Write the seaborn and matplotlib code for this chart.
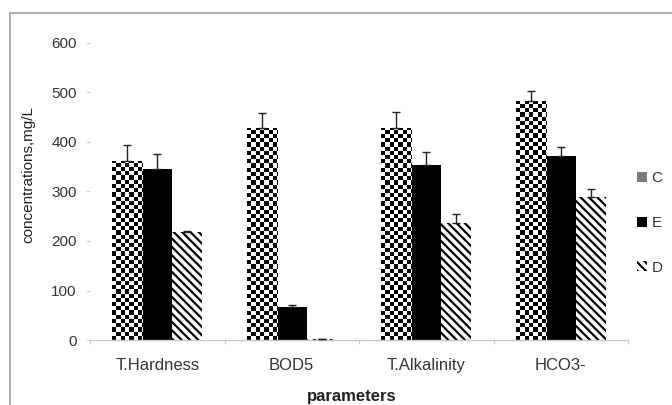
import numpy as np
import pandas as pd
import matplotlib
matplotlib.use("Agg")
import matplotlib.pyplot as plt
import seaborn as sns
from matplotlib.patches import Patch
from matplotlib.lines import Line2D

# ---------------- data ----------------
categories = ["T.Hardness", "BOD5", "T.Alkalinity", "HCO3-"]
groups = ["C", "E", "D"]
values_C = [362, 428, 428, 483]
values_E = [345, 67, 354, 372]
values_D = [218, 3, 236, 289]
err_C = [32, 30, 32, 20]
err_E = [30, 4, 26, 18]
err_D = [2, 0, 18, 16]
y_ticks = [0, 100, 200, 300, 400, 500, 600]

sns.set_theme(style="white")
plt.rcParams["font.family"] = ["Liberation Sans", "DejaVu Sans"]
plt.rcParams["hatch.linewidth"] = 1.6
plt.rcParams["hatch.color"] = "black"

df = pd.DataFrame({
    "parameter": categories * 3,
    "group": ["C"] * 4 + ["E"] * 4 + ["D"] * 4,
    "value": values_C + values_E + values_D,
})
errs = {"C": err_C, "E": err_E, "D": err_D}

fig = plt.figure(figsize=(6.72, 4.05), dpi=100)
ax = fig.add_axes([90 / 672, 1 - 340 / 405, (628 - 90) / 672, (340 - 43) / 405])

sns.barplot(data=df, x="parameter", y="value", hue="group", hue_order=groups,
            order=categories, palette={"C": "white", "E": "black", "D": "white"},
            width=0.67, errorbar=None, saturation=1, legend=False, ax=ax,
            linewidth=0)

ax.set_xlim(-0.5, 3.5)
ax.set_ylim(0, 600)
fig.canvas.draw()

# patterns
cont_C, cont_E, cont_D = ax.containers[0], ax.containers[1], ax.containers[2]
for p in cont_D:
    p.set_hatch("\\\\\\\\")
    p.set_edgecolor("black")
    p.set_linewidth(0)
    p.set_facecolor("white")

cell = 4.2  # pixels
for p in cont_C:
    x0, w, h = p.get_x(), p.get_width(), p.get_height()
    (px0, py0) = ax.transData.transform((x0, 0))
    (px1, py1) = ax.transData.transform((x0 + w, h))
    nx = max(1, int(np.ceil((px1 - px0) / cell)))
    ny = max(1, int(np.ceil((py1 - py0) / cell)))
    ii, jj = np.indices((ny, nx))
    checker = ((ii + jj) % 2).astype(float)
    top = ax.transData.inverted().transform((px0, py0 + ny * cell))[1]
    right = ax.transData.inverted().transform((px0 + nx * cell, py0))[0]
    im = ax.imshow(checker, cmap="gray", extent=(x0, right, 0, top),
                   origin="lower", interpolation="nearest", aspect="auto",
                   zorder=p.get_zorder() + 0.1, vmin=0, vmax=1)
    im.set_clip_path(p)
ax.set_xlim(-0.5, 3.5)
ax.set_ylim(0, 600)

# error bars (upper only)
for cont, g in zip([cont_C, cont_E, cont_D], groups):
    xs = [p.get_x() + p.get_width() / 2 for p in cont]
    ys = [p.get_height() for p in cont]
    e = errs[g]
    ax.errorbar(xs, ys, yerr=[np.zeros(len(e)), e], fmt="none",
                ecolor="#222222", elinewidth=1, capsize=3, capthick=1, zorder=5)

# axes styling
for s in ["top", "right", "left"]:
    ax.spines[s].set_visible(False)
ax.spines["bottom"].set_color("#c8c8c8")
ax.spines["bottom"].set_linewidth(1)
ax.set_yticks(y_ticks)
ax.tick_params(axis="y", length=3, width=0.8, color="#d0d0d0", pad=6.5,
               labelsize=11, labelcolor="#333333", left=True)
ax.set_xticks(range(len(categories)))
ax.set_xticklabels(categories)
ax.tick_params(axis="x", length=0, pad=13, labelsize=12, labelcolor="#333333")
ax.set_xticks([-0.5, 0.5, 1.5, 2.5, 3.5], minor=True)
ax.tick_params(axis="x", which="minor", length=3, width=0.8, color="#c8c8c8",
               bottom=True)
ax.set_xlabel("")
ax.set_ylabel("")

fig.text(28 / 672, 1 - 175 / 405, "concentrations,mg/L", rotation=90,
         ha="center", va="center", fontsize=11, color="#222222")
fig.text(352 / 672, 1 - 396 / 405, "parameters", ha="center", va="center",
         fontsize=12, fontweight="bold", color="#222222")

# legend
handles = [
    Patch(facecolor="#7a7a7a", edgecolor="none", label="C"),
    Patch(facecolor="black", edgecolor="none", label="E"),
    Patch(facecolor="white", edgecolor="black", linewidth=0,
          hatch="\\\\\\\\", label="D"),
]
fig.legend(handles=handles, loc="center left",
           bbox_to_anchor=(637 / 672, 1 - 223 / 405), frameon=False,
           handlelength=0.65, handleheight=0.65, handletextpad=0.3,
           labelspacing=2.0, borderpad=0, borderaxespad=0, fontsize=11,
           labelcolor="#333333")

# outer border (top and left)
fig.add_artist(Line2D([10 / 672, 10 / 672], [0, 1 - 13 / 405],
                      transform=fig.transFigure, color="#a0a0a0", lw=1.2))
fig.add_artist(Line2D([10 / 672, 1], [1 - 13 / 405, 1 - 13 / 405],
                      transform=fig.transFigure, color="#a0a0a0", lw=1.2))

fig.savefig("out.png", dpi=100)
